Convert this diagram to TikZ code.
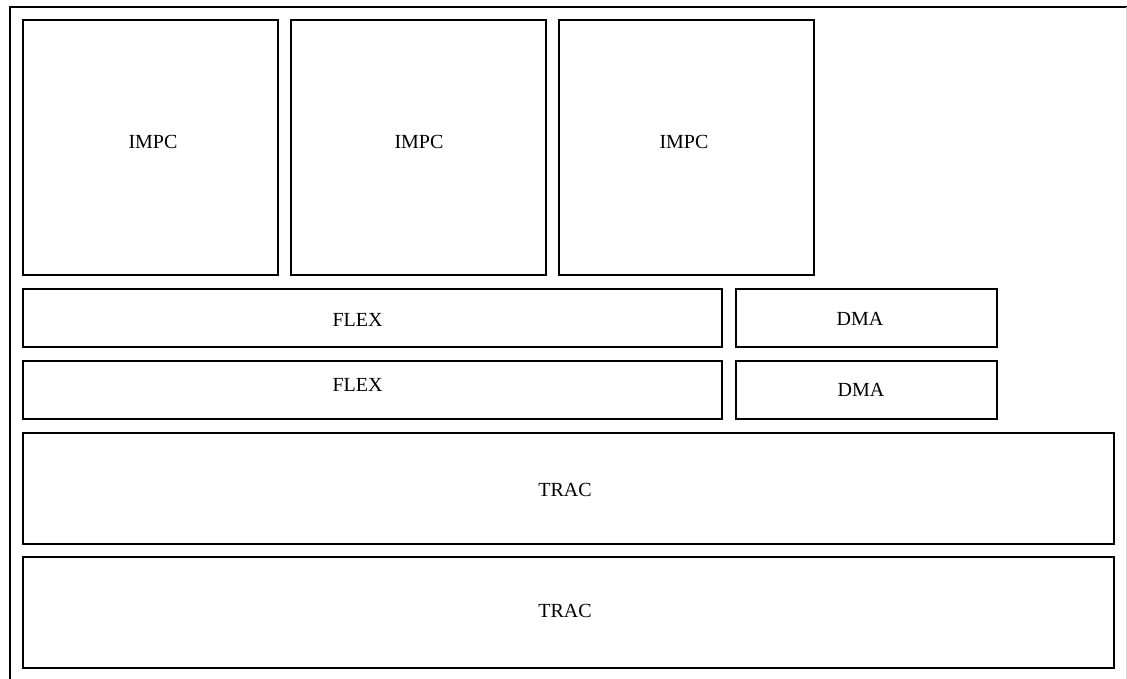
\documentclass[tikz,border=0pt]{standalone}
\usepackage{fontspec}
\setmainfont{Liberation Serif}
\tikzset{blk/.style={draw, line width=1.2pt, inner sep=0pt}}
\tikzset{lbl/.style={inner sep=0pt}}

\begin{document}
\begin{tikzpicture}[x=1pt, y=-1pt, font=\fontsize{20}{24}\selectfont]
\useasboundingbox (0,0) rectangle (1127,678);
\draw [line width=1.2pt] (10,680) -- (10,7) -- (1127,7);
\draw [black!15, line width=1pt] (1126,7) -- (1126,680);
\foreach \i/\x/\t in {1/150.5/153, 2/418.5/419, 3/686.5/684}
{
\node [blk, minimum width=255, minimum height=255] (impc\i) at (\x,147.5) {};
\node [lbl] (impclbl\i) at (\t,142) {IMPC};
}
\foreach \i/\y/\t in {1/318/320, 2/390/385}
{
\node [blk, minimum width=699, minimum height=58] (flex\i) at (372.5,\y) {};
\node [lbl] (flexlbl\i) at (357.5,\t) {FLEX};
\node [blk, minimum width=261, minimum height=58] (dma\i) at (866.5,\y) {};
}
\node [lbl] (dmalbl1) at (860,319) {DMA};
\node [lbl] (dmalbl2) at (861,390) {DMA};
\foreach \i/\y/\t in {1/488.5/490, 2/612.5/611}
{
\node [blk, minimum width=1091, minimum height=111] (trac\i) at (568.5,\y) {};
\node [lbl] (traclbl\i) at (565,\t) {TRAC};
}
\end{tikzpicture}
\end{document}
